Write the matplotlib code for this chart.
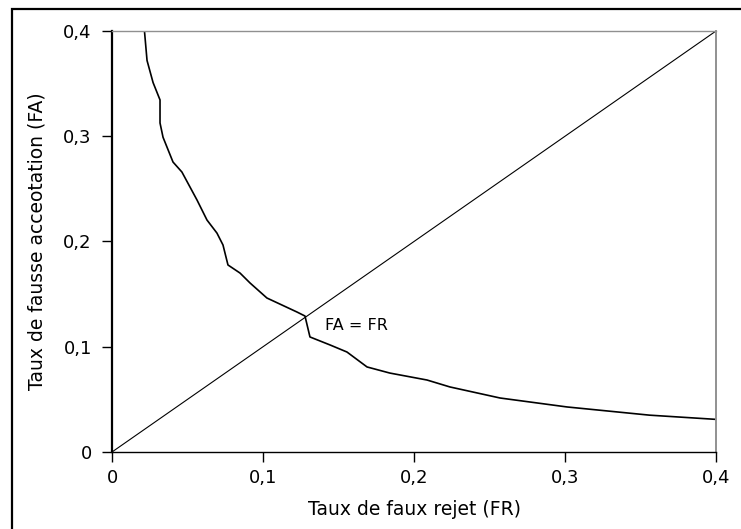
import matplotlib
matplotlib.use("Agg")
import matplotlib.pyplot as plt
from matplotlib.patches import Rectangle

# courbe FA / FR
fr = [0.0215, 0.0232, 0.0272, 0.0318, 0.0318, 0.0338, 0.0404, 0.0463, 0.0563,
      0.0629, 0.0695, 0.0735, 0.0768, 0.0848, 0.0914, 0.1026, 0.1225, 0.1278,
      0.1311, 0.1444, 0.1556, 0.1689, 0.184, 0.2086, 0.2238, 0.257, 0.3013,
      0.356, 0.4]
fa = [0.4, 0.372, 0.351, 0.3345, 0.3126, 0.299, 0.2755, 0.266, 0.2394,
      0.2204, 0.208, 0.1967, 0.1777, 0.170, 0.1606, 0.1463, 0.133, 0.1292,
      0.1093, 0.1017, 0.095, 0.0808, 0.075, 0.0684, 0.0618, 0.0513, 0.0428,
      0.035, 0.031]
diag = [0, 0.4]
ticks = [0, 0.1, 0.2, 0.3, 0.4]
tick_labels = ["0", "0,1", "0,2", "0,3", "0,4"]

fig = plt.figure(figsize=(7.41, 5.29), dpi=100)
# cadre autour de la figure (seuls haut et gauche visibles)
fig.patches.append(Rectangle((11.5 / 741, -0.1), 1.2, (529 - 9) / 529 + 0.1,
                             transform=fig.transFigure, fill=False,
                             edgecolor="black", linewidth=1.6))

ax = fig.add_axes([112 / 741, 77 / 529, 604 / 741, 421 / 529])
ax.plot(diag, diag, color="black", linewidth=0.8)
ax.plot(fr, fa, color="black", linewidth=1.2)
ax.text(0.141, 0.12, "FA = FR", fontsize=11.5, va="center", ha="left")

ax.set_xlim(0, 0.4)
ax.set_ylim(0, 0.4)
ax.set_xticks(ticks)
ax.set_xticklabels(tick_labels)
ax.set_yticks(ticks)
ax.set_yticklabels(tick_labels)
ax.tick_params(direction="out", length=7, width=1, labelsize=13)
ax.tick_params(axis="x", pad=5.5)
ax.tick_params(axis="y", pad=7.5)

ax.spines["left"].set_linewidth(1.6)
ax.spines["bottom"].set_linewidth(1.0)
ax.spines["top"].set_color("#909090")
ax.spines["right"].set_color("#909090")
ax.spines["top"].set_linewidth(1.0)
ax.spines["right"].set_linewidth(1.4)

ax.set_xlabel("Taux de faux rejet (FR)", fontsize=13.5, labelpad=9)
ax.set_ylabel("Taux de fausse acceotation (FA)", fontsize=13.5, labelpad=12)

fig.savefig("out.png", dpi=100)
